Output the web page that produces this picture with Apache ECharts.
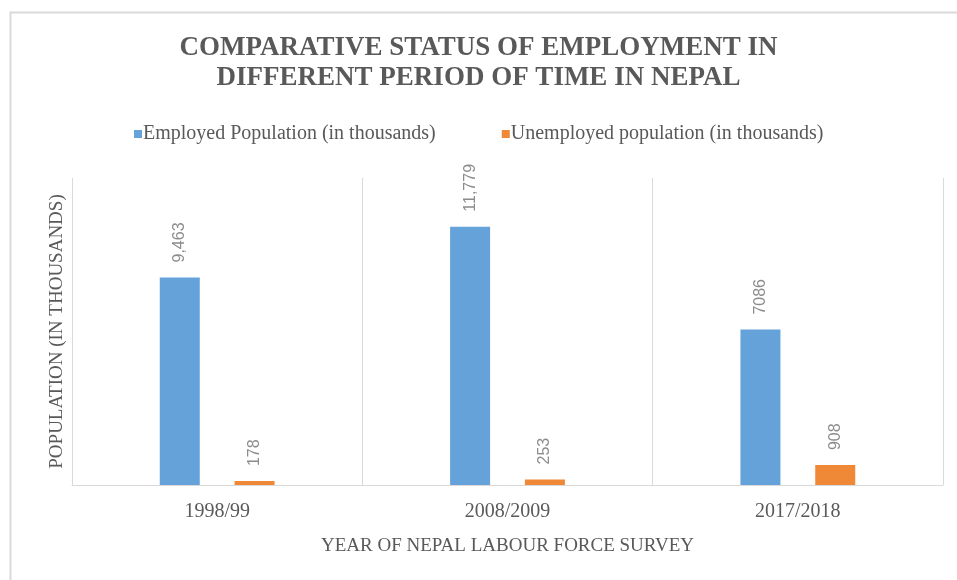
<!DOCTYPE html>
<html>
<head>
<meta charset="utf-8">
<script src="https://cdn.jsdelivr.net/npm/echarts@6/dist/echarts.min.js"></script>
<style>html,body{margin:0;padding:0;background:#fff}#c{width:957px;height:580px}</style>
</head>
<body>
<div id="c"></div>
<script>
const categories = ['1998/99', '2008/2009', '2017/2018'];
const employed = [9463, 11779, 7086];
const unemployed = [178, 253, 908];
const employedLabels = ['9,463', '11,779', '7086'];
const unemployedLabels = ['178', '253', '908'];
const seriesNames = ['Employed Population (in thousands)', 'Unemployed population (in thousands)'];
const titleText = 'COMPARATIVE STATUS OF EMPLOYMENT IN\nDIFFERENT PERIOD OF TIME IN NEPAL';
const xName = 'YEAR OF NEPAL LABOUR FORCE SURVEY';
const yName = 'POPULATION (IN THOUSANDS)';

const serif = '"Liberation Serif", "DejaVu Serif", serif';
const sans = '"Liberation Sans", "DejaVu Sans", sans-serif';
const chart = echarts.init(document.getElementById('c'));
const labelStyle = (texts) => ({
  show: true, position: 'top', rotate: 90, align: 'left', verticalAlign: 'middle',
  distance: 15, color: '#8c8c8c', fontFamily: sans, fontSize: 16,
  formatter: p => texts[p.dataIndex]
});
chart.setOption({
  animation: false,
  graphic: [{
    type: 'rect', left: 8, top: 10, silent: true,
    shape: { width: 1100, height: 1000 },
    style: { fill: 'none', stroke: '#d9d9d9', lineWidth: 2 }
  }],
  title: {
    text: titleText, left: 'center', top: 33, padding: [0, 0, 0, 20],
    textStyle: { fontFamily: serif, fontWeight: 'bold', fontSize: 27, lineHeight: 30, color: '#595959' }
  },
  legend: {
    left: 129, top: 119, itemWidth: 8, itemHeight: 8, itemGap: 66, icon: 'rect',
    textStyle: { fontFamily: serif, fontSize: 20, color: '#595959', padding: [0, 0, 0, -4] }
  },
  grid: { left: 72, right: 14, top: 178, bottom: 95 },
  xAxis: {
    type: 'category', data: categories,
    name: xName, nameLocation: 'middle', nameGap: 52,
    nameTextStyle: { fontFamily: serif, fontSize: 19, color: '#595959' },
    axisLine: { show: true, lineStyle: { color: '#d9d9d9', width: 1 } },
    axisTick: { show: false },
    splitLine: { show: true, lineStyle: { color: '#d9d9d9', width: 1 } },
    axisLabel: { fontFamily: serif, fontSize: 20, color: '#595959', margin: 17 }
  },
  yAxis: {
    type: 'value', min: 0, max: 14000, interval: 2000,
    name: yName, nameLocation: 'middle', nameGap: 5,
    nameTextStyle: { fontFamily: serif, fontSize: 19, color: '#595959' },
    axisLabel: { show: false }, axisLine: { show: false }, axisTick: { show: false },
    splitLine: { show: false }
  },
  series: [
    { name: seriesNames[0], type: 'bar', data: employed, barWidth: 40, barGap: '87%',
      itemStyle: { color: '#64a2d9' }, label: labelStyle(employedLabels) },
    { name: seriesNames[1], type: 'bar', data: unemployed, barWidth: 40,
      itemStyle: { color: '#ef8837' }, label: labelStyle(unemployedLabels) }
  ]
});
</script>
</body>
</html>
